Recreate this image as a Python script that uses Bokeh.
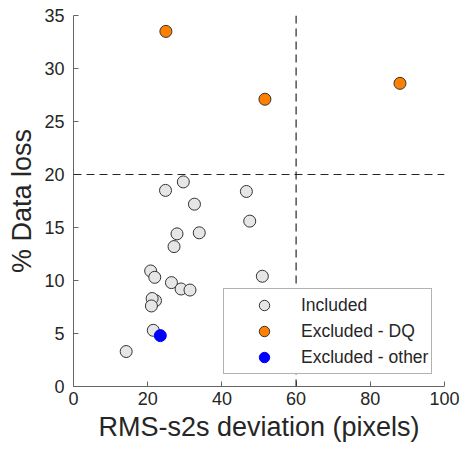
from bokeh.plotting import figure
from bokeh.models import Range1d, Span, Legend, LegendItem, FixedTicker
from bokeh.embed import file_html
from bokeh.resources import INLINE

# Data
incl_x = [24.8, 29.6, 46.6, 32.6, 47.5, 27.9, 33.9, 27.1, 20.8, 21.9, 50.9,
          26.4, 29.0, 31.4, 22.1, 21.2, 21.0, 21.5, 14.2]
incl_y = [18.5, 19.3, 18.4, 17.2, 15.6, 14.4, 14.5, 13.2, 10.9, 10.3, 10.4,
          9.8, 9.2, 9.1, 8.1, 8.3, 7.6, 5.3, 3.3]
dq_x = [24.9, 51.6, 88.0]
dq_y = [33.5, 27.1, 28.6]
other_x = [23.4]
other_y = [4.8]
x_threshold = 60
y_threshold = 20
x_ticks = [0, 20, 40, 60, 80, 100]
y_ticks = [0, 5, 10, 15, 20, 25, 30, 35]

FONT = "Liberation Sans"
TXT = "#262626"

p = figure(width=460, height=448,
           x_range=Range1d(0, 100), y_range=Range1d(0, 35),
           output_backend="svg", toolbar_location=None,
           min_border_left=73, min_border_right=16, min_border_top=15,
           min_border_bottom=62)
p.outline_line_color = None
p.xgrid.visible = False
p.ygrid.visible = False

for ax, ticks in ((p.xaxis[0], x_ticks), (p.yaxis[0], y_ticks)):
    ax.ticker = FixedTicker(ticks=ticks)
    ax.major_tick_in = 5
    ax.major_tick_out = 0
    ax.minor_tick_line_color = None
    ax.axis_line_color = "#666666"
    ax.major_tick_line_color = "#666666"
    ax.major_label_text_font = FONT
    ax.major_label_text_font_size = "18px"
    ax.major_label_text_color = TXT
    ax.axis_label_text_font = FONT
    ax.axis_label_text_font_size = "27px"
    ax.axis_label_text_font_style = "normal"
    ax.axis_label_text_color = TXT

p.xaxis.axis_label = "RMS-s2s deviation (pixels)"
p.yaxis.axis_label = "% Data loss"
p.xaxis.major_label_standoff = 5
p.xaxis.axis_label_standoff = 4
p.yaxis.major_label_standoff = 9
p.yaxis.axis_label_standoff = 4

p.add_layout(Span(location=x_threshold, dimension="height", line_color=TXT,
                  line_width=1.2, line_dash="8 5"))
p.add_layout(Span(location=y_threshold, dimension="width", line_color=TXT,
                  line_width=1.2, line_dash="8 5"))

r1 = p.scatter(incl_x, incl_y, size=12, fill_color="#e6e6e6", line_color="#333333", line_width=1)
r2 = p.scatter(dq_x, dq_y, size=12, fill_color="#ff8000", line_color="#333333", line_width=1)
r3 = p.scatter(other_x, other_y, size=12, fill_color="#0000ff", line_color="#0000ff", line_width=1)

legend = Legend(items=[LegendItem(label="Included", renderers=[r1]),
                       LegendItem(label="Excluded - DQ", renderers=[r2]),
                       LegendItem(label="Excluded - other", renderers=[r3])],
                location=(150, 12), padding=3, spacing=-5,
                glyph_width=74, glyph_height=26, label_standoff=-4,
                label_text_font=FONT, label_text_font_size="17.5px",
                label_text_color=TXT, border_line_color="#666666",
                border_line_width=1, background_fill_color="white",
                background_fill_alpha=1.0, margin=0)
p.add_layout(legend, "center")

open("out.html", "w").write(file_html(p, INLINE))
